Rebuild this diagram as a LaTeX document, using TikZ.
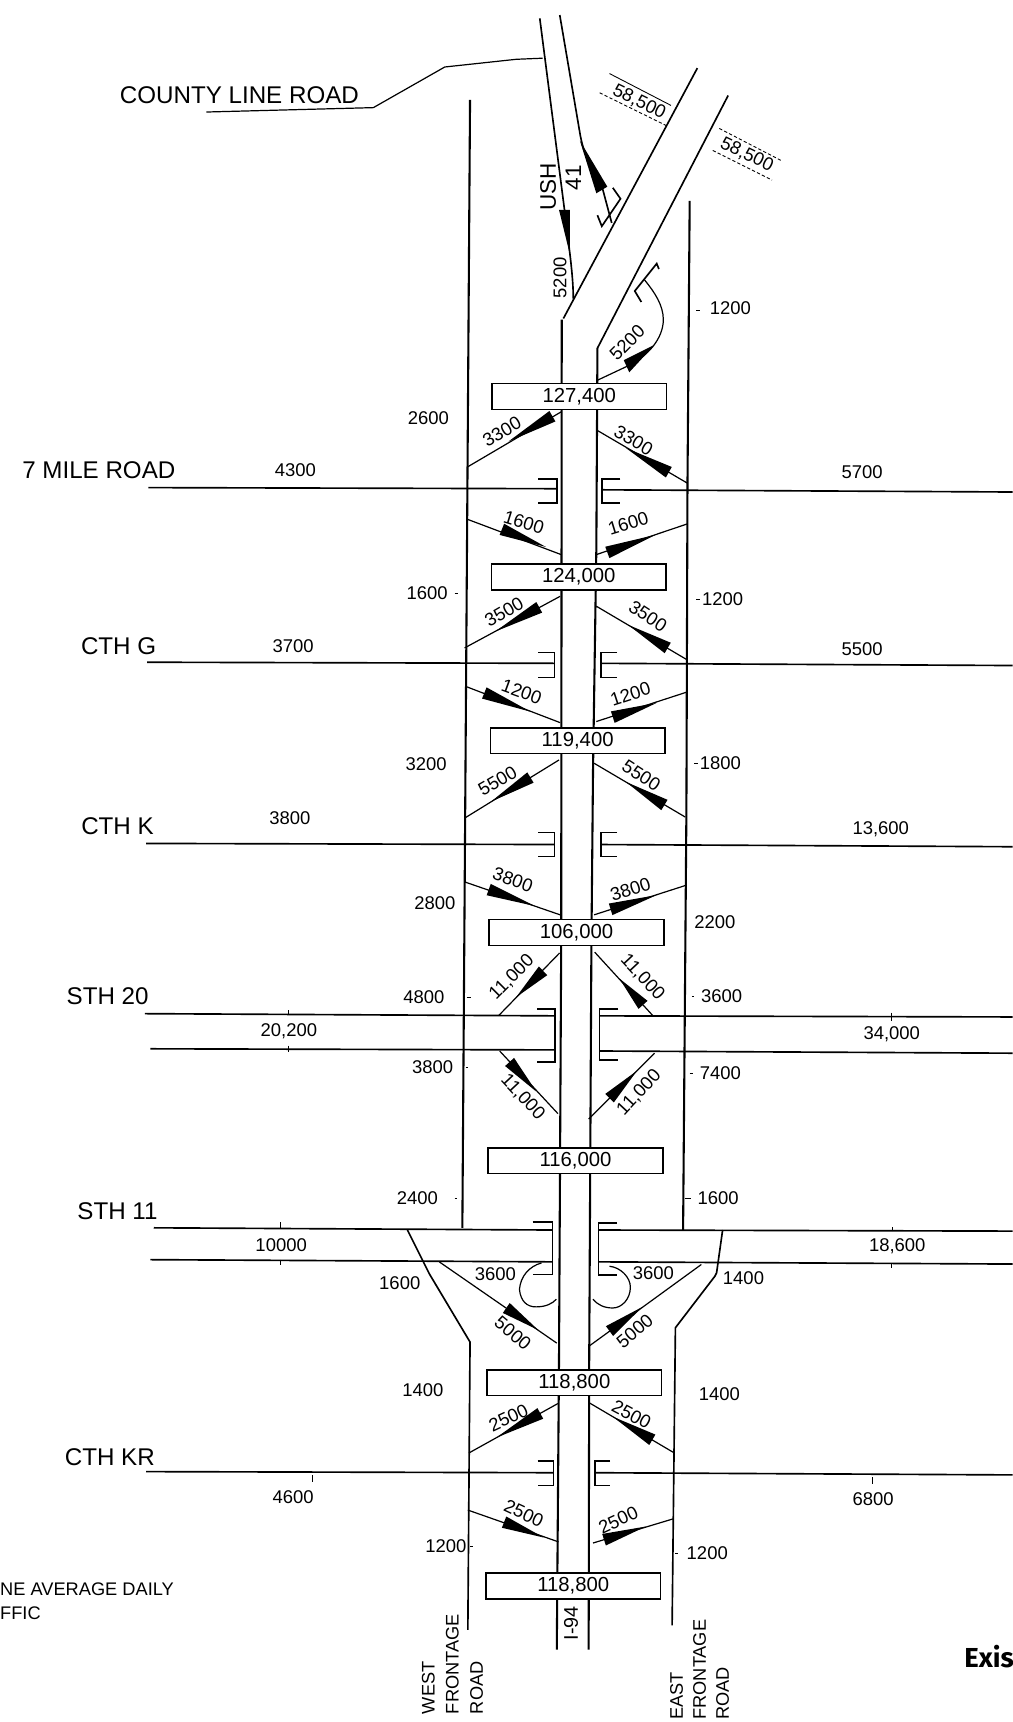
\documentclass[tikz,border=0pt]{standalone}
\usepackage{fontspec}
\setmainfont{Liberation Sans}
\newfontfamily\exisfont{Fira Sans}
\usetikzlibrary{calc}
\tikzset{
  road/.style={line width=1.5pt,black,line cap=butt},
  fr/.style={line width=1.9pt,black},
  thin/.style={line width=1.1pt,black},
  num/.style={font=\fontsize{16.8}{18}\selectfont,inner sep=0pt},
  lab/.style={font=\fontsize{22}{24}\selectfont,inner sep=0pt},
  small/.style={font=\fontsize{16.6}{18}\selectfont,inner sep=0pt},
  vol/.style={draw=black,fill=white,line width=1.4pt,minimum width=159pt,minimum height=23.5pt,inner sep=0pt,font=\fontsize{18.5}{20}\selectfont},
}
\newcommand\ramp[4]{%
  \draw[thin] (#1) -- (#2);
  \fill[black] (#4) -- ($(#3)!5.5pt!90:(#4)$) -- ($(#3)!5.5pt!-90:(#4)$) -- cycle;}
\newcommand\tikmark[2]{\draw[line width=0.7pt] (#1) -- (#2);}
\begin{document}
\begin{tikzpicture}[x=1pt,y=-1pt]
\useasboundingbox (0,0) rectangle (922,1568);
\fill[white] (0,0) rectangle (922,1568);

% I-94 mainline and USH 41
\draw[fr] (511.5,291) -- (511,860) -- (509,1240) -- (507,1502);
\draw[fr] (544,317) -- (543,500) -- (540,700) -- (538.5,861) -- (536.5,1240) -- (536,1502);
\draw[road] (635,62) -- (513,290);
\draw[road] (663,87) -- (544,317);
\draw[road] (491.5,16.7) -- (514,191) .. controls (518,225) and (522,250) .. (522,272);
\draw[road] (509.7,13.7) -- (528,121) .. controls (531,140) and (540,158) .. (549,173) -- (557,203);
\fill[black] (519,232) -- (509,191) -- (519,191) -- cycle;
\fill[black] (528,128) -- (543,176) -- (553,170) -- cycle;
\draw[road] (558,171) -- (565,181) -- (548,206) -- (544,196);

% County Line Road leader
\draw[thin] (188,102) -- (340,98) -- (405,61) -- (470,54) -- (494,53);

% frontage roads
\draw[fr] (428,91) -- (421,1118);
\draw[fr] (628,183) -- (626,440) -- (625,740) -- (622,1120);
\draw[road] (371,1120) -- (391,1160) -- (428,1222) -- (426,1484);
\draw[road] (658,1120) -- (652.5,1159) -- (651,1162) -- (615,1209) -- (612,1480);

% east ramp from the USH 41 split
\draw[thin] (544.5,346) -- (570,334) .. controls (590,325) and (604,308) .. (604,291) .. controls (604,278) and (596,266) .. (587,255);
\fill[black] (596,314) -- (568,328) -- (573,339) -- cycle;
\draw[road] (584,275) -- (578,265) -- (598,240) -- (600,245);

% cross roads
\draw[road] (135,444) -- (507,445);
\draw[road] (548,446) -- (922,448);
\draw[road] (490,436) -- (507,436) -- (507,458) -- (490,458);
\draw[road] (565,436) -- (548,436) -- (548,458) -- (565,458);

\draw[road] (134,603) -- (505,604);
\draw[road] (547,604) -- (922,606);
\draw[road] (490,594) -- (505,594) -- (505,617) -- (490,617);
\draw[road] (562,594) -- (547,594) -- (547,617) -- (562,617);

\draw[road] (133,768) -- (505,769);
\draw[road] (547,769) -- (922,771);
\draw[road] (490,758) -- (505,758) -- (505,780) -- (490,780);
\draw[road] (562,758) -- (547,758) -- (547,780) -- (562,780);

\draw[road] (132,923) -- (505,925);
\draw[road] (137,955) -- (505,956);
\draw[road] (546,925) -- (922,926);
\draw[road] (546,957) -- (922,959);
\draw[road] (489,919) -- (505.5,919) -- (505.5,967) -- (489,967);
\draw[road] (563,919) -- (546,919) -- (546,965) -- (563,965);

\draw[road] (140,1118) -- (503,1120);
\draw[road] (137,1147) -- (503,1149);
\draw[road] (545,1120) -- (922,1121);
\draw[road] (545,1149) -- (922,1151);
\draw[road] (485,1112.5) -- (503,1112.5) -- (503,1160.5) -- (485,1160.5);
\draw[road] (562,1113.5) -- (545,1113.5) -- (545,1161) -- (562,1161);

\draw[road] (133,1340) -- (504,1341);
\draw[road] (542,1341) -- (922,1343);
\draw[road] (489.6,1330.5) -- (504,1330.5) -- (504,1352.6) -- (489.6,1352.6);
\draw[road] (555.6,1330.5) -- (542,1330.5) -- (542,1352.6) -- (555.6,1352.6);

% ramps
\ramp{426,425}{511,375}{503,379}{463,402}
\ramp{544,392}{626,440}{609,430}{570,408}
\ramp{426,473}{511,505}{457,482}{497,498}
\ramp{543,505}{626,477}{553,503}{597,487}
\ramp{423,590}{510,543}{491,553}{451,575}
\ramp{543,552}{626,601}{608,590}{572,569}
\ramp{424,625}{510,658}{441,631}{483,648}
\ramp{543,657}{626,630}{558,653}{598,640}
\ramp{423,745}{509,692}{483,708}{447,730}
\ramp{541,695}{624,744}{605,733}{570,712}
\ramp{423,803}{510,833}{445,810}{487,825}
\ramp{541,833}{625,806}{556,828}{598,815}
\ramp{509.6,867.7}{454,924.8}{494.5,884}{470,908}
\ramp{541.5,867}{595,925.4}{585.5,915}{564,891}
\ramp{455,957}{508,1014}{464,967}{488.4,994}
\ramp{536,1019}{596,959}{555,1000}{580,975}
\ramp{400,1149}{507,1223}{461,1191}{490,1211}
\ramp{536,1226}{638.6,1151.4}{555,1212}{585,1190}
\ramp{427,1323}{508,1278}{492,1287}{452,1309}
\ramp{536,1277}{614,1323}{594,1311}{558,1290}
\ramp{426,1375}{508.6,1404}{459,1386}{495,1400}
\ramp{613,1383}{540,1405}{550,1402}{588,1390}

% 3600 loops
\draw[thin] (493,1150) .. controls (482,1153) and (474,1162) .. (473,1174) .. controls (474,1185) and (480,1190) .. (488,1190) .. controls (497,1190) and (503,1187) .. (506.6,1183);
\draw[thin] (555,1153) .. controls (565,1154) and (574,1163) .. (574,1172) .. controls (574,1183) and (566,1191) .. (558,1191) .. controls (550,1191) and (544,1188) .. (540,1183);

% dashed rules around the 58,500 labels
\draw[line width=0.8pt] (555,67) -- (611,96);
\draw[line width=0.8pt,densely dashed] (546,84.5) -- (608,115);
\draw[line width=0.8pt,densely dashed] (655,117) -- (711,146);
\draw[line width=0.8pt,densely dashed] (649,137) -- (703,164);

% mainline volume boxes
\node[vol] (v1) at (527.5,361) {127,400};
\node[vol] (v2) at (527,525.5) {124,000};
\node[vol] (v3) at (526,674.5) {119,400};
\node[vol] (v4) at (525,849) {106,000};
\node[vol] (v5) at (524,1057) {116,000};
\node[vol] (v6) at (523,1259) {118,800};
\node[vol] (v7) at (522,1444) {118,800};

% road names
\node[lab] (n1) at (218,87) {COUNTY LINE ROAD};
\node[lab] (n2) at (90,428) {7 MILE ROAD};
\node[lab] (n3) at (108,588) {CTH G};
\node[lab] (n4) at (107,752) {CTH K};
\node[lab] (n5) at (98,907) {STH 20};
\node[lab] (n6) at (107,1103) {STH 11};
\node[lab] (n7) at (100,1327) {CTH KR};
\node[lab,rotate=90,font=\fontsize{20.5}{22}\selectfont] (n8) at (499,170) {USH};
\node[lab,rotate=90,font=\fontsize{20.5}{22}\selectfont] (n9) at (522,162) {41};
\node[lab,rotate=90,font=\fontsize{18}{20}\selectfont] (n10) at (520,1478) {I-94};

% volumes along the roads
\foreach \p/\t/\q in {390/2600/381,665/1200/281,269/4300/428,785/5700/430,389/1600/540,658/1200/546,
  267/3700/588,785/5500/591,388/3200/696,656/1800/695,264/3800/745,802/{13,600}/755,396/2800/822,
  651/2200/840,386/4800/908,657/3600/907,263/{20,200}/939,812/{34,000}/942,394/3800/972,656/7400/977,
  380/2400/1091,654/1600/1091,256/10000/1134,817/{18,600}/1135,364/1600/1168,677/1400/1164,
  451/3600/1160,595/3600/1159,385/1400/1266,655/1400/1269,267/4600/1363,795/6800/1365,406/1200/1408,644/1200/1414}
  {\node[num] at (\p,\q) {\t};}

% volumes along the ramps
\foreach \p/\q/\r/\t in {510/253/90/5200,571/312/45/5200,582/93/-26/{58,500},680/141/-26/{58,500},
  457/393/30/3300,577/401/-30/3300,477/476/-17/1600,572/477/17/1600,459/557/30/3500,590/561/-33/3500,
  475/630/-20/1200,574/632/18/1200,453/711/30/5500,584/706/-33/5500,467/801/-20/3800,574/810/18/3800,
  466/890/45/{11,000},585/890/-47/{11,000},476/999/-47/{11,000},582/995/47/{11,000},
  467/1214/-40/5000,578/1212/40/5000,463/1291/25/2500,575/1288/-28/2500,477/1378/-25/2500,563/1384/25/2500}
  {\node[num,rotate=\r] at (\p,\q) {\t};}

% small ticks
\tikmark{634,283}{637,283}
\tikmark{414,540}{417,540}
\tikmark{634,546}{637,546}
\tikmark{632,695}{636,695}
\tikmark{425,908}{429,908}
\tikmark{630,907}{632,907}
\tikmark{424,972}{426,972}
\tikmark{628,977}{631,977}
\tikmark{414,1091}{416,1091}
\tikmark{624,1091}{629,1091}
\tikmark{284,1343}{284,1349}
\tikmark{794,1345}{794,1351}
\tikmark{813,1121}{813,1117}
\tikmark{812,922}{812,930}
\tikmark{263,920}{263,923}
\tikmark{263,952}{263,958}
\tikmark{255,1113}{255,1118}
\tikmark{255,1147}{255,1152}
\tikmark{812,1151}{812,1155}
\tikmark{428,1408}{431,1408}
\tikmark{615,1414}{617,1414}

% bottom text
\node[small,anchor=west] (k1) at (0,1447) {NE AVERAGE DAILY};
\node[small,anchor=west] (k2) at (0,1469) {FFIC};
\node[small,rotate=90,anchor=west] (w1) at (390,1561) {WEST};
\node[small,rotate=90,anchor=west] (w2) at (412,1561) {FRONTAGE};
\node[small,rotate=90,anchor=west] (w3) at (434,1561) {ROAD};
\node[small,rotate=90,anchor=west] (e1) at (616,1566) {EAST};
\node[small,rotate=90,anchor=west] (e2) at (637,1566) {FRONTAGE};
\node[small,rotate=90,anchor=west] (e3) at (658,1566) {ROAD};
\node[anchor=west,inner sep=0pt,font=\exisfont\bfseries\fontsize{25}{26}\selectfont] (ex) at (878,1508) {Exis};
\end{tikzpicture}
\end{document}
